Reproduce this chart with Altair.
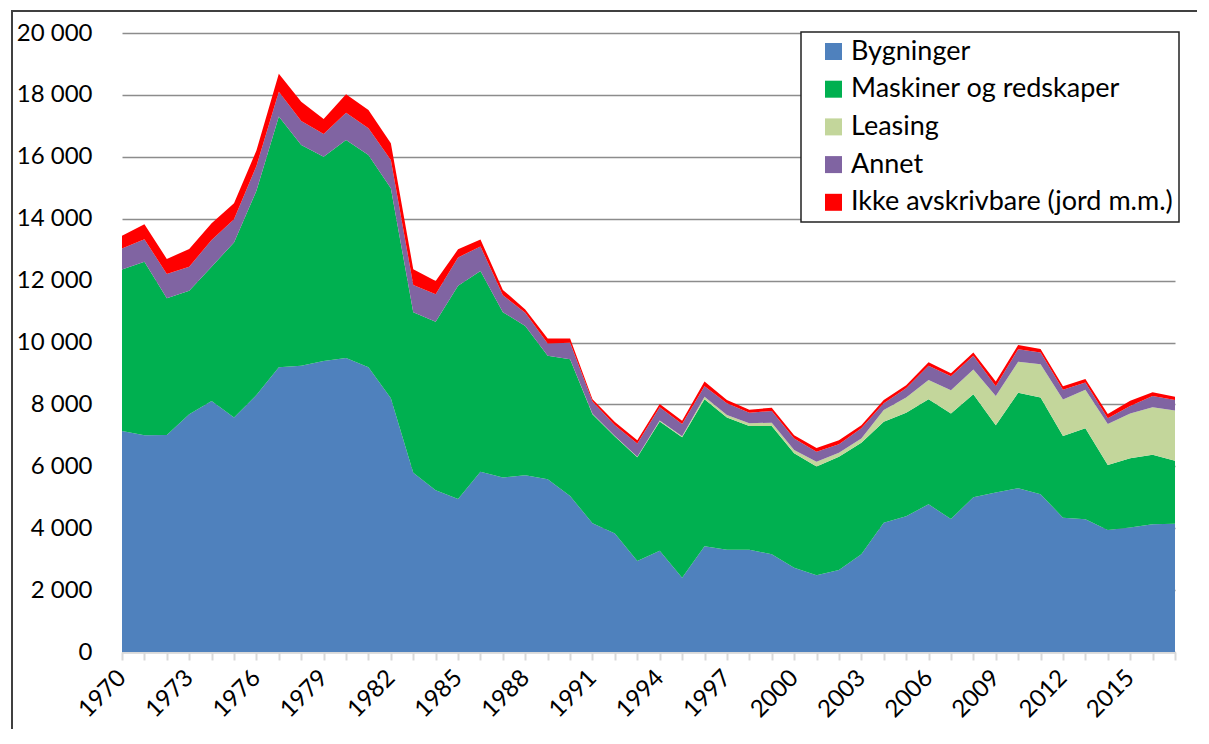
import altair as alt
import pandas as pd

years = list(range(1970, 2018))

series_names = [
    "Bygninger",
    "Maskiner og redskaper",
    "Leasing",
    "Annet",
    "Ikke avskrivbare (jord m.m.)",
]
series_colors = ["#4F81BD", "#00B050", "#C3D69B", "#8064A2", "#FF0000"]

bygninger = [7140, 7000, 7010, 7680, 8110, 7580, 8300, 9200, 9250, 9400,
             9500, 9200, 8200, 5790, 5230, 4940, 5820, 5640, 5710, 5580,
             5040, 4160, 3830, 2940, 3270, 2400, 3420, 3300, 3300, 3160,
             2720, 2480, 2650, 3160, 4180, 4390, 4770, 4300, 5000, 5150,
             5290, 5100, 4340, 4290, 3940, 4020, 4130, 4140]
maskiner = [5220, 5610, 4420, 3990, 4340, 5650, 6600, 8100, 7130, 6600,
            7040, 6860, 6780, 5190, 5440, 6890, 6490, 5340, 4820, 3990,
            4420, 3520, 3130, 3350, 4180, 4540, 4750, 4280, 4000, 4140,
            3700, 3510, 3660, 3600, 3260, 3340, 3400, 3410, 3330, 2180,
            3090, 3120, 2640, 2940, 2100, 2240, 2240, 2040]
leasing = [0, 0, 0, 0, 0, 0, 0, 0, 0, 0,
           0, 0, 0, 0, 0, 0, 0, 0, 0, 0,
           0, 20, 20, 20, 30, 30, 80, 80, 90, 110,
           110, 160, 130, 140, 380, 490, 620, 750, 800, 940,
           1000, 1080, 1180, 1240, 1330, 1450, 1540, 1620]
annet = [680, 730, 780, 780, 860, 750, 800, 800, 780, 740,
         880, 860, 920, 880, 890, 920, 790, 550, 430, 400,
         530, 390, 350, 430, 430, 400, 340, 380, 340, 380,
         370, 320, 270, 330, 220, 300, 460, 450, 440, 320,
         400, 380, 310, 240, 180, 240, 360, 340]
ikke = [410, 480, 490, 570, 540, 520, 500, 580, 620, 480,
        600, 590, 540, 510, 430, 260, 230, 170, 110, 160,
        140, 80, 100, 100, 100, 100, 150, 100, 100, 100,
        100, 120, 130, 100, 100, 100, 110, 100, 110, 150,
        140, 110, 120, 110, 140, 170, 120, 110]

y_ticks = list(range(0, 20001, 2000))

rows = []
for k, (name, vals) in enumerate(zip(series_names, [bygninger, maskiner, leasing, annet, ikke])):
    for yr, v in zip(years, vals):
        rows.append({"year": yr, "series": name, "value": v, "ord": k})
df = pd.DataFrame(rows)

FONT = "Lato"

areas = alt.Chart(df).mark_area(interpolate="linear").encode(
    x=alt.X("year:Q",
            scale=alt.Scale(domain=[1970, 2017], nice=False, zero=False),
            axis=alt.Axis(values=years, format="d",
                          labelExpr="(datum.value - 1970) % 3 == 0 ? datum.label : ''",
                          labelAngle=315, labelAlign="right", labelBaseline="middle",
                          labelPadding=14, labelFont=FONT, labelFontSize=24,
                          labelColor="black", grid=False,
                          domainColor="#D9D9D9", domainWidth=2,
                          tickColor="#D9D9D9", tickWidth=2, tickSize=8,
                          labelOverlap=False, title=None)),
    y=alt.Y("value:Q", stack="zero",
            scale=alt.Scale(domain=[0, 20000], nice=False),
            axis=alt.Axis(values=y_ticks,
                          labelExpr="replace(format(datum.value, ',d'), ',', ' ')",
                          labelFont=FONT, labelFontSize=24, labelColor="black",
                          labelPadding=30, ticks=False, domain=False,
                          grid=True, gridColor="#8C8C8C", gridWidth=1.5,
                          title=None)),
    color=alt.Color("series:N",
                    scale=alt.Scale(domain=series_names, range=series_colors),
                    legend=alt.Legend(orient="none", legendX=679, legendY=-1,
                                      title=None, symbolType="square",
                                      symbolSize=289, symbolStrokeWidth=0,
                                      labelFont=FONT, labelFontSize=27,
                                      labelColor="black", labelOffset=4,
                                      labelLimit=500,
                                      symbolOffset=13, padding=6,
                                      rowPadding=9.7, strokeColor="#222222",
                                      fillColor="white")),
    order=alt.Order("ord:Q", sort="ascending"),
)

one = pd.DataFrame({"a": [0]})
left_line = alt.Chart(one).mark_rule(color="#404040", strokeWidth=2).encode(
    x=alt.value(-110), y=alt.value(-22), y2=alt.value(696))
top_line = alt.Chart(one).mark_rect(color="#404040").encode(
    x=alt.value(-111), x2=alt.value(1075), y=alt.value(-23), y2=alt.value(-21))

chart = alt.layer(areas, left_line, top_line).properties(
    width=1053, height=619,
    autosize=alt.AutoSizeParams(type="none"),
    padding={"left": 114, "top": 25, "right": 26, "bottom": 78},
    background="white",
).configure_view(stroke=None).configure_legend(strokeWidth=1.5)

chart.save("out.html", embed_options={"renderer": "svg", "actions": False})
